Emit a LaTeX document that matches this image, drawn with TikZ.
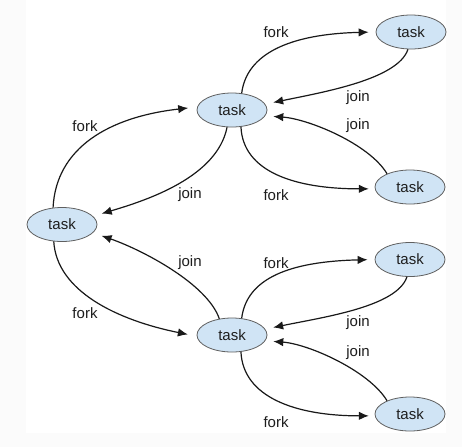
\documentclass[tikz,border=0pt]{standalone}
\usepackage{fontspec}
\setmainfont{Liberation Sans}
\usetikzlibrary{arrows.meta,shapes.geometric}
\definecolor{taskfill}{RGB}{208,228,245}
\definecolor{taskborder}{RGB}{95,95,95}
\definecolor{txt}{RGB}{30,30,30}
\definecolor{linecol}{RGB}{25,25,25}
\definecolor{bgout}{RGB}{251,251,251}
\begin{document}
\begin{tikzpicture}[x=1pt,y=-1pt,
  task/.style={ellipse, draw=taskborder, line width=0.8pt, fill=taskfill,
    minimum width=70pt, minimum height=34pt, inner sep=0pt,
    font=\fontsize{15}{18}\selectfont, text=txt},
  lbl/.style={font=\fontsize{15}{18}\selectfont, text=txt, inner sep=0pt},
  conn/.style={line width=1.2pt, draw=linecol, -{Latex[length=10pt,width=8.5pt]}}]
\fill[bgout] (0,0) rectangle (462,447);
\fill[white] (26,0) rectangle (446,433);
\useasboundingbox (0,0) rectangle (462,447);
% nodes
\node[task] (L) at (62,224.5) {task};
\node[task] (M1) at (232,110) {task};
\node[task] (M2) at (232,335) {task};
\node[task] (R1) at (411,32) {task};
\node[task] (R2) at (410,187) {task};
\node[task] (R3) at (410,259.5) {task};
\node[task] (R4) at (410,414) {task};
% left group
\draw[conn, shorten >=9pt] (L.118) .. controls +(3,-60) and +(-88,10) .. (M1.175);
\draw[conn, shorten >=9pt] (M1.254) .. controls +(-10,50) and +(54,-16) .. (L.15);
\draw[conn, shorten >=9pt] (M2.128) .. controls +(-12,-35) and +(49,17) .. (L.-15);
\draw[conn, shorten >=9pt] (L.244) .. controls +(3,50) and +(-79,-16) .. (M2.182);
% top group
\draw[conn, shorten >=7pt] (M1.60) .. controls +(5,-40) and +(-85,2) .. (R1.180);
\draw[conn, shorten >=8pt] (R1.260) .. controls +(-10,30) and +(58,-12) .. (M1.10);
\draw[conn, shorten >=8pt] (R2.150) .. controls +(-18,-30) and +(43,3) .. (M1.-10);
\draw[conn, shorten >=6pt] (M1.-62) .. controls +(2,45) and +(-80,0) .. (R2.183);
% bottom group
\draw[conn, shorten >=7pt] (M2.60) .. controls +(5,-40) and +(-85,2) .. (R3.180);
\draw[conn, shorten >=8pt] (R3.260) .. controls +(-10,30) and +(58,-12) .. (M2.10);
\draw[conn, shorten >=8pt] (R4.150) .. controls +(-18,-30) and +(43,3) .. (M2.-10);
\draw[conn, shorten >=6pt] (M2.-62) .. controls +(2,45) and +(-80,0) .. (R4.183);
% labels
\node[lbl] (f1) at (85,126) {fork};
\node[lbl] (j1) at (190,195) {join};
\node[lbl] (j2) at (190,263) {join};
\node[lbl] (f2) at (85,313) {fork};
\node[lbl] (f3) at (276,32) {fork};
\node[lbl] (j3) at (358,98) {join};
\node[lbl] (j4) at (358,126) {join};
\node[lbl] (f4) at (276,195) {fork};
\node[lbl] (f5) at (276,263) {fork};
\node[lbl] (j5) at (358,323) {join};
\node[lbl] (j6) at (358,353) {join};
\node[lbl] (f6) at (276,422) {fork};
\end{tikzpicture}
\end{document}
